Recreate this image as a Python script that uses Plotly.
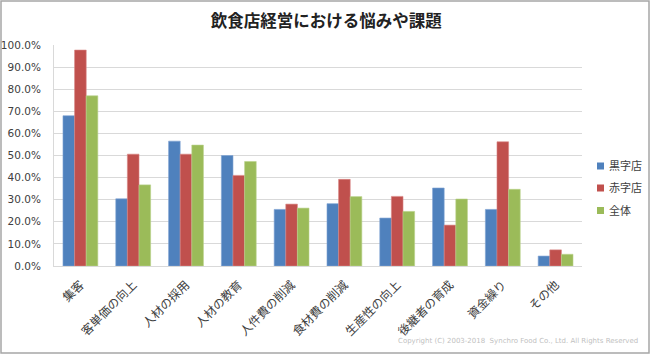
import plotly.graph_objects as go

categories = ["集客", "客単価の向上", "人材の採用", "人材の教育", "人件費の削減",
              "食材費の削減", "生産性の向上", "後継者の育成", "資金繰り", "その他"]
kuroji = [68.0, 30.4, 56.5, 50.0, 25.6, 28.2, 21.7, 35.3, 25.6, 4.5]
akaji = [97.7, 50.6, 50.6, 41.0, 28.0, 39.2, 31.5, 18.5, 56.2, 7.3]
zentai = [77.0, 36.7, 54.7, 47.3, 26.2, 31.4, 24.7, 30.3, 34.7, 5.3]
series_names = ["黒字店", "赤字店", "全体"]
colors = ["#4F81BD", "#C0504D", "#9BBB59"]
edge_colors = ["#7FA3D3", "#D88583", "#B9D28A"]
y_ticks = [0, 10, 20, 30, 40, 50, 60, 70, 80, 90, 100]

W, H = 650, 354
L, R, T, B = 54, 68, 45, 88
pw, ph = W - L - R, H - T - B

def px_x(x):
    return (x - L) / pw

def px_y(y):
    return (H - B - y) / ph

font = "Noto Sans CJK JP"
fig = go.Figure()
for name, vals, c, ec in zip(series_names, [kuroji, akaji, zentai], colors, edge_colors):
    fig.add_trace(go.Bar(x=categories, y=vals, name=name,
                         marker=dict(color=c, line=dict(color=ec, width=0.6))))

fig.update_layout(
    width=W, height=H,
    margin=dict(l=L, r=R, t=T, b=B, autoexpand=False),
    paper_bgcolor="white", plot_bgcolor="white",
    barmode="group", bargap=0.34, bargroupgap=0,
    title=dict(text="<b>飲食店経営における悩みや課題</b>", x=0.502, xanchor="center",
               y=1 - 21 / H, yanchor="middle",
               font=dict(family=font, size=16.5, color="#222222")),
    font=dict(family=font, size=11, color="#404040"),
    xaxis=dict(tickangle=-45, showline=True, linecolor="#D9D9D9", linewidth=1,
               tickfont=dict(family=font, size=12, color="#404040"), ticks="",
               ticklabelstandoff=6),
    yaxis=dict(range=[0, 100], tickvals=y_ticks,
               ticktext=[f"{v:.1f}%" for v in y_ticks],
               showgrid=True, gridcolor="#D9D9D9", gridwidth=1,
               showline=True, linecolor="#D9D9D9", zeroline=False,
               tickfont=dict(family="DejaVu Sans", size=10.5, color="#404040"), ticks="",
               ticklabelstandoff=10),
    showlegend=False,
)

# custom legend (squares + labels)
legend_y = [166, 188, 210.5]
for name, c, ly in zip(series_names, colors, legend_y):
    fig.add_shape(type="rect", xref="paper", yref="paper",
                  x0=px_x(597), x1=px_x(604), y0=px_y(ly + 3.5), y1=px_y(ly - 3.5),
                  line=dict(width=0), fillcolor=c)
    fig.add_annotation(text=name, xref="paper", yref="paper",
                       x=px_x(606.5), y=px_y(ly - 1), xanchor="left", yanchor="middle",
                       showarrow=False,
                       font=dict(family=font, size=11, color="#404040"))

# outer border
fig.add_shape(type="rect", xref="paper", yref="paper",
              x0=px_x(1), x1=px_x(W - 1), y0=px_y(H - 1), y1=px_y(1),
              line=dict(color="#A6A6A6", width=1.5), fillcolor="rgba(0,0,0,0)", layer="below")

fig.add_annotation(text="Copyright (C) 2003-2018  Synchro Food Co., Ltd. All Rights Reserved",
                   xref="paper", yref="paper", x=px_x(640), y=px_y(341),
                   xanchor="right", yanchor="middle", showarrow=False,
                   font=dict(family="DejaVu Sans", size=7, color="#BFBFBF"))

fig.write_html("out.html")
